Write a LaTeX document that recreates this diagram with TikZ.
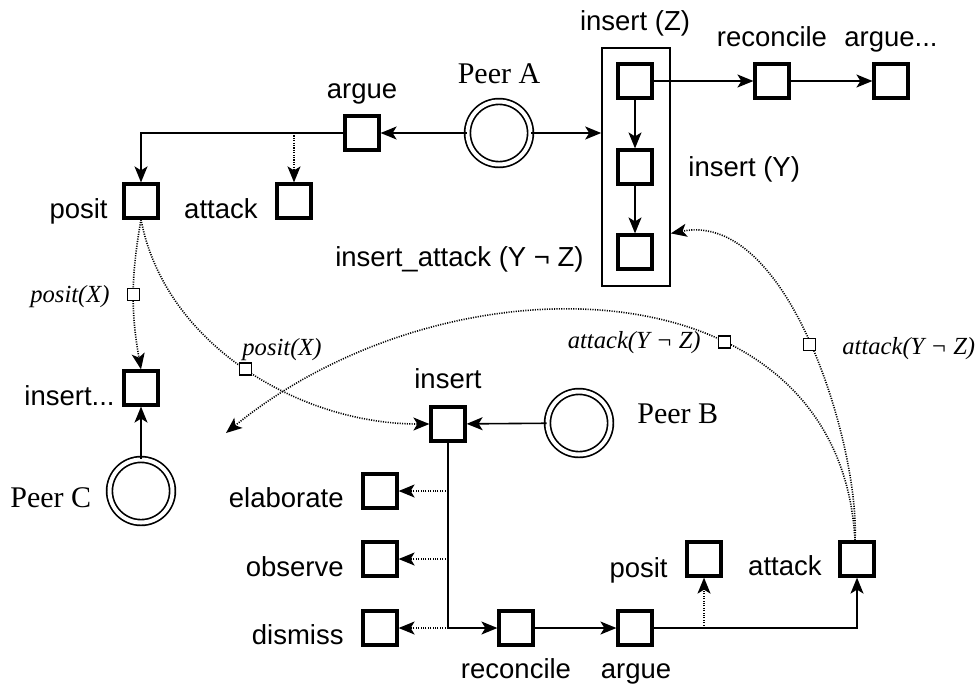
\documentclass[tikz,border=0pt]{standalone}
\usepackage{fontspec}
\setmainfont{Liberation Serif}
\setsansfont{Liberation Sans}
\usetikzlibrary{arrows.meta}
\begin{document}
\begin{tikzpicture}[x=0.5pt,y=-0.5pt,
  sq/.style={draw,solid,line width=1.6pt,minimum size=17pt,inner sep=0pt,fill=white},
  ssq/.style={draw,solid,line width=0.7pt,minimum size=6pt,inner sep=0pt,fill=white},
  peer/.style={circle,draw,double,double distance=2pt,line width=0.85pt,minimum size=31.5pt,inner sep=0pt},
  conn/.style={line width=0.8pt,-{Stealth[length=8pt,width=6.5pt,inset=2pt]}},
  dotc/.style={line width=0.8pt,dash pattern=on 0.55pt off 0.65pt,-{Stealth[length=8pt,width=6.5pt,inset=2pt]}},
  sf/.style={font=\sffamily\fontsize{13.75pt}{16pt}\selectfont,inner sep=0pt},
  rm/.style={font=\fontsize{15pt}{18pt}\selectfont,inner sep=0pt},
  it/.style={font=\itshape\fontsize{12.3pt}{14pt}\selectfont,inner sep=0pt}]
\useasboundingbox (0,0) rectangle (977,686);
% container
\node[draw,line width=0.8pt,minimum width=34pt,minimum height=119pt,inner sep=0pt] (box) at (636,167) {};
% squares
\node[sq] (Z) at (635,81) {};
\node[sq] (Y) at (635,167) {};
\node[sq] (IA) at (635,252) {};
\node[sq] (recT) at (772,81) {};
\node[sq] (argD) at (891,81) {};
\node[sq] (argT) at (362,133) {};
\node[sq] (posL) at (141,201) {};
\node[sq] (attL) at (294,201) {};
\node[sq] (insC) at (141,388) {};
\node[sq] (insB) at (448,424) {};
\node[sq] (elab) at (380,491) {};
\node[sq] (obs) at (380,559) {};
\node[sq] (dis) at (380,628) {};
\node[sq] (recB) at (516,628) {};
\node[sq] (argB) at (635,628) {};
\node[sq] (posB) at (704,559) {};
\node[sq] (attB) at (857,559) {};
% peers
\node[peer] (pA) at (499,133) {};
\node[peer] (pB) at (579,423) {};
\node[peer] (pC) at (141,491) {};
% labels
\node[sf,anchor=base] (lZ) at (635,30) {insert (Z)};
\node[sf,anchor=base] (lrecT) at (772,46) {reconcile};
\node[sf,anchor=base] (largD) at (891,46) {argue...};
\node[sf,anchor=base] (largT) at (362,98) {argue};
\node[rm,anchor=base] (lpA) at (499,83) {Peer A};
\node[sf,anchor=base west] (lY) at (688,176) {insert (Y)};
\node[sf,anchor=base east] (lIA) at (584,266) {insert\_attack (Y ¬ Z)};
\node[sf,anchor=base east] (lposL) at (108,218) {posit};
\node[sf,anchor=base east] (lattL) at (258,218) {attack};
\node[sf,anchor=base east] (linsC) at (115,405) {insert...};
\node[rm,anchor=base west] (lpC) at (10,507) {Peer C};
\node[sf,anchor=base] (linsB) at (448,388) {insert};
\node[rm,anchor=base west] (lpB) at (637,423) {Peer B};
\node[sf,anchor=base east] (lelab) at (344,507) {elaborate};
\node[sf,anchor=base east] (lobs) at (344,576) {observe};
\node[sf,anchor=base east] (ldis) at (344,644) {dismiss};
\node[sf,anchor=base] (lrecB) at (516,678) {reconcile};
\node[sf,anchor=base] (largB) at (636,678) {argue};
\node[sf,anchor=base east] (lposB) at (668,577) {posit};
\node[sf,anchor=base east] (lattB) at (822,575) {attack};
\node[it,anchor=base east] (lpx1) at (110,302) {posit(X)};
\node[it,anchor=base west] (lpx2) at (242,355) {posit(X)};
\node[it,anchor=base east] (lat1) at (701,348) {attack(Y ¬ Z)};
\node[it,anchor=base west] (lat2) at (842,354) {attack(Y ¬ Z)};
% coordinates
\coordinate (br1) at (attL |- argT);
\coordinate (bE) at (insB |- elab);
\coordinate (bO) at (insB |- obs);
\coordinate (bD) at (insB |- dis);
\coordinate (bP) at (posB |- argB);
\coordinate (aS) at ([xshift=-1pt]attB.north);
\coordinate (tipC) at (226,433);
% solid connectors
\draw[conn] (pA) -- (argT);
\draw[conn] (pA.east) -- (pA -| box.west);
\draw[conn] (Z) -- (Y);
\draw[conn] (Y) -- (IA);
\draw[conn] (Z) -- (recT);
\draw[conn] (recT) -- (argD);
\draw[conn] (argT.west) -| (posL.north);
\draw[conn] (pC) -- (insC);
\draw[conn] (pB) -- (insB);
\draw[conn] (insB.south) |- (recB.west);
\draw[conn] (recB) -- (argB);
\draw[conn] (argB.east) -| (attB.south);
% dotted connectors
\draw[dotc] (br1) -- (attL.north);
\draw[dotc] (bE) -- (elab.east);
\draw[dotc] (bO) -- (obs.east);
\draw[dotc] (bD) -- (dis.east);
\draw[dotc] (bP) -- (posB.south);
\draw[dotc] (posL.south) to[bend right=10] node[ssq,pos=0.5] (s1) {} (insC.north);
\draw[dotc] (posL.south) .. controls (165,345) and (300,424) .. node[ssq,pos=0.5] (s2) {} (insB.west);
\draw[dotc] (aS) .. controls (860,450) and (790,210) .. node[ssq,pos=0.5] (s3) {} (box.east |- IA.north);
\draw[dotc] (aS) .. controls (840,260) and (450,250) .. node[ssq,pos=0.35] (s4) {} (tipC);
\end{tikzpicture}
\end{document}
